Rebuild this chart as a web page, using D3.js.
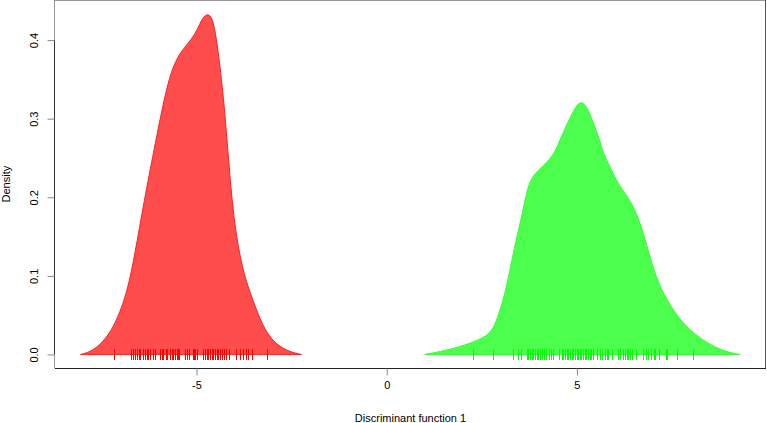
<!DOCTYPE html>
<html><head><meta charset="utf-8">
<script src="https://cdn.jsdelivr.net/npm/d3@7"></script>
<style>
html,body{margin:0;padding:0;background:#fff;}
svg{display:block;}
text{font-family:"Liberation Sans",Arial,Helvetica,sans-serif;fill:#000;}
</style></head>
<body>
<svg id="chart" width="767" height="423"></svg>
<script>
// Density curve of group 1 (red): x positions and density values
const redX = [-8.05,-7.80,-7.54,-7.28,-7.10,-6.92,-6.78,-6.63,-6.37,-6.11,-5.96,-5.74,-5.54,-5.36,-5.13,-4.97,-4.87,-4.73,-4.60,-4.52,-4.45,-4.38,-4.31,-4.24,-4.16,-4.07,-3.95,-3.75,-3.51,-3.33,-3.16,-2.89,-2.54,-2.24];
const redY = [0,0.003,0.012,0.027,0.044,0.066,0.090,0.125,0.197,0.262,0.299,0.349,0.375,0.388,0.401,0.414,0.426,0.434,0.430,0.414,0.392,0.365,0.335,0.298,0.250,0.197,0.148,0.100,0.068,0.045,0.028,0.012,0.003,0];
// Density curve of group 2 (green)
const greenX = [1.00,1.66,2.19,2.63,2.84,3.06,3.19,3.34,3.59,3.72,3.94,4.11,4.42,4.55,4.77,4.98,5.11,5.26,5.43,5.60,5.69,5.87,6.03,6.20,6.57,6.87,7.10,7.36,7.71,8.06,8.50,8.94,9.28];
const greenY = [0,0.006,0.014,0.023,0.035,0.069,0.095,0.133,0.184,0.218,0.233,0.239,0.256,0.273,0.296,0.317,0.322,0.316,0.295,0.273,0.256,0.239,0.222,0.209,0.184,0.133,0.095,0.069,0.044,0.027,0.012,0.003,0];
// Individual scores (rug)
const redRug = [-7.16,-6.73,-6.68,-6.62,-6.57,-6.52,-6.49,-6.40,-6.36,-6.31,-6.27,-6.23,-6.15,-6.09,-5.96,-5.92,-5.88,-5.80,-5.77,-5.70,-5.65,-5.61,-5.57,-5.52,-5.48,-5.45,-5.30,-5.26,-5.19,-5.10,-5.07,-5.04,-5.00,-4.82,-4.78,-4.73,-4.69,-4.65,-4.60,-4.56,-4.52,-4.47,-4.43,-4.38,-4.34,-4.28,-4.23,-4.14,-3.96,-3.86,-3.79,-3.70,-3.64,-3.53,-3.14];
const greenRug = [2.26,2.80,3.31,3.46,3.52,3.68,3.72,3.76,3.81,3.85,3.90,3.94,3.98,4.03,4.07,4.13,4.20,4.27,4.33,4.38,4.53,4.60,4.64,4.68,4.73,4.77,4.82,4.86,4.90,4.95,4.99,5.03,5.08,5.12,5.17,5.21,5.25,5.30,5.34,5.38,5.43,5.52,5.60,5.65,5.74,5.78,5.82,5.91,6.09,6.13,6.22,6.26,6.31,6.35,6.39,6.44,6.54,6.74,6.81,6.87,6.94,7.02,7.05,7.16,7.33,7.37,7.62,8.04];
const xTicks = [-5,0,5];
const yTicks = [0,0.1,0.2,0.3,0.4];
const xLabel = "Discriminant function 1";
const yLabel = "Density";

const svg = d3.select("#chart");
const L = 55, R = 766, T = 0, B = 368.3;
const x = d3.scaleLinear().domain([-8.72, 9.97]).range([L, R]);
const y = d3.scaleLinear().domain([-0.0176, 0.451]).range([B, T]);

function drawDensity(xs, ys, fill, stroke) {
  const pts = xs.map((v, i) => [v, ys[i]]);
  const area = d3.area().x(d => x(d[0])).y0(y(0)).y1(d => y(d[1])).curve(d3.curveBasis);
  svg.append("path").datum(pts).attr("d", area)
    .attr("fill", fill).attr("stroke", stroke).attr("stroke-width", 1);
}
drawDensity(redX, redY, "#ff4d4d", "#ff2020");
drawDensity(greenX, greenY, "#4dff4d", "#33ff33");

function drawRug(vals, color) {
  svg.append("g").selectAll("rect").data(vals).join("rect")
    .attr("x", d => Math.round(x(d))).attr("width", 1)
    .attr("y", y(0) - 5.5).attr("height", 11)
    .attr("fill", color).attr("shape-rendering", "crispEdges");
}
drawRug(redRug, "#ff0000");
drawRug(greenRug, "#00ff00");

// box
svg.append("line").attr("x1", L).attr("x2", R).attr("y1", 0.5).attr("y2", 0.5).attr("stroke", "#999");
svg.append("line").attr("x1", R - 0.5).attr("x2", R - 0.5).attr("y1", 0).attr("y2", B).attr("stroke", "#555");
svg.append("line").attr("x1", L).attr("x2", R).attr("y1", 368.5).attr("y2", 368.5).attr("stroke", "#222");
svg.append("line").attr("x1", L - 0.5).attr("x2", L - 0.5).attr("y1", 0).attr("y2", B).attr("stroke", "#999");

// x axis
const xAxis = d3.axisBottom(x).tickValues(xTicks).tickSize(7).tickPadding(6).tickFormat(d3.format("d"));
const gx = svg.append("g").attr("transform", "translate(0,368.5)").call(xAxis);
gx.select(".domain").attr("d", `M${x(-5)},0H${x(5)}`).attr("stroke", "#222");
gx.selectAll(".tick line").attr("stroke", "#888");
gx.selectAll(".tick text").attr("font-size", 11).attr("font-family", "Liberation Sans, Arial, sans-serif").attr("dy", "0.71em").attr("y", 13);
gx.selectAll(".tick text").text(d => d < 0 ? "-" + Math.abs(d) : String(d));

// y axis
const yAxis = d3.axisLeft(y).tickValues(yTicks).tickSize(7).tickFormat(d3.format(".1f"));
const gy = svg.append("g").attr("transform", "translate(54.5,0)").call(yAxis);
gy.select(".domain").attr("d", `M0,${y(0)}V${y(0.4)}`).attr("stroke", "#333");
gy.selectAll(".tick line").attr("stroke", "#888");
gy.selectAll(".tick text").attr("font-size", 11).attr("font-family", "Liberation Sans, Arial, sans-serif")
  .attr("x", null).attr("dy", null).attr("text-anchor", "middle")
  .attr("transform", "translate(-16.5,0) rotate(-90)");

// axis titles
svg.append("text").attr("x", (L + R) / 2).attr("y", 422).attr("text-anchor", "middle")
  .attr("font-size", 11).text(xLabel);
svg.append("text").attr("transform", `translate(10,${(T + B) / 2}) rotate(-90)`)
  .attr("text-anchor", "middle").attr("font-size", 11).text(yLabel);
</script>
</body></html>
